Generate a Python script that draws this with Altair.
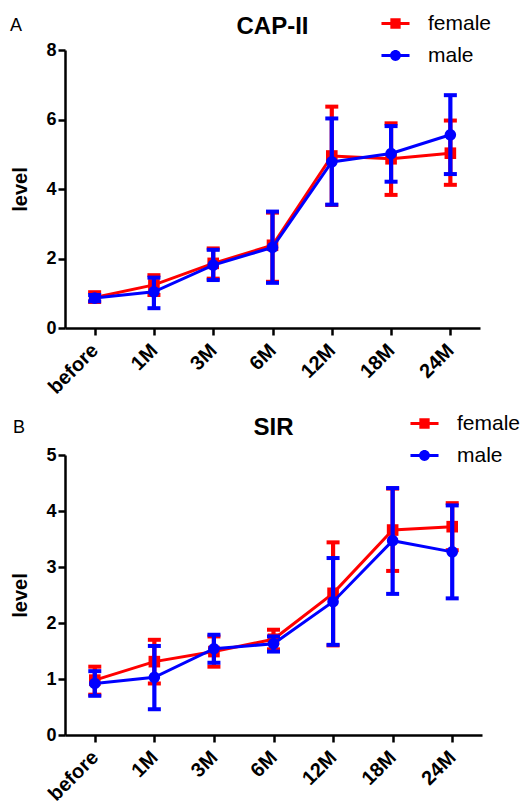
import altair as alt
import pandas as pd

times = ["before", "1M", "3M", "6M", "12M", "18M", "24M"]
sexes = ["female", "male"]
colors = ["#ff0000", "#0000ff"]

# Panel A: CAP-II
cap_female_mean = [0.88, 1.24, 1.86, 2.38, 4.95, 4.87, 5.03]
cap_female_lo = [0.75, 0.95, 1.42, 1.33, 3.54, 3.83, 4.12]
cap_female_hi = [1.03, 1.52, 2.29, 3.32, 6.37, 5.89, 5.97]
cap_male_mean = [0.86, 1.04, 1.81, 2.32, 4.78, 5.02, 5.56]
cap_male_lo = [0.77, 0.57, 1.38, 1.30, 3.55, 4.21, 4.43]
cap_male_hi = [0.95, 1.45, 2.25, 3.35, 6.03, 5.81, 6.70]

# Panel B: SIR
sir_female_mean = [0.98, 1.31, 1.49, 1.71, 2.53, 3.66, 3.72]
sir_female_lo = [0.72, 0.92, 1.22, 1.53, 1.60, 2.93, 3.30]
sir_female_hi = [1.22, 1.70, 1.76, 1.88, 3.44, 4.40, 4.14]
sir_male_mean = [0.92, 1.03, 1.54, 1.63, 2.38, 3.47, 3.27]
sir_male_lo = [0.70, 0.46, 1.29, 1.49, 1.61, 2.52, 2.44]
sir_male_hi = [1.14, 1.59, 1.79, 1.76, 3.16, 4.41, 4.10]

FONT = "Liberation Sans"

SQUARE_LEG = "M-1.5,-0.16H1.5V0.16H-1.5Z M-0.55,-0.55H0.55V0.55H-0.55Z"
CIRCLE_LEG = "M-1.5,-0.16H1.5V0.16H-1.5Z M-0.58,0A0.58,0.58 0 1,1 0.58,0A0.58,0.58 0 1,1 -0.58,0Z"


def build_df(fm, flo, fhi, mm, mlo, mhi):
    rows = []
    for s, (m, lo, hi) in zip(sexes, [(fm, flo, fhi), (mm, mlo, mhi)]):
        for t, a, b, c in zip(times, m, lo, hi):
            rows.append({"time": t, "sex": s, "mean": a, "lo": b, "hi": c})
    return pd.DataFrame(rows)


def panel(df, title, letter, ymax, yvals, width, height, leg_x, leg_y, let_x, let_y, t_off):
    color_scale = alt.Scale(domain=sexes, range=colors)
    x = alt.X("time:N", sort=times, scale=alt.Scale(type="point", padding=0.5),
              axis=alt.Axis(title=None, labelAngle=-45, labelAlign="right",
                            labelBaseline="middle", labelPadding=12, labelFontSize=20))
    y_axis = alt.Axis(values=yvals, title="level", titleFontSize=20, titleFont=FONT,
                      titleFontWeight="bold", titlePadding=15, labelFontSize=18)
    yscale = alt.Scale(domain=[0, ymax], nice=False)
    base = alt.Chart(df)
    layers = []
    for s, c, shp in zip(sexes, colors, ["square", "circle"]):
        sub = base.transform_filter(alt.datum.sex == s)
        col = alt.value(c)
        yq = alt.Y("mean:Q", scale=yscale, axis=y_axis)
        layers.append(sub.mark_rule(strokeWidth=4.2, opacity=1).encode(
            x=x, y=alt.Y("lo:Q", scale=yscale, axis=y_axis), y2="hi:Q", color=col))
        layers.append(sub.mark_tick(orient="horizontal", size=13, thickness=4, opacity=1).encode(
            x=x, y="lo:Q", color=col))
        layers.append(sub.mark_tick(orient="horizontal", size=13, thickness=4, opacity=1).encode(
            x=x, y="hi:Q", color=col))
        layers.append(sub.mark_line(strokeWidth=3).encode(x=x, y=yq, color=col))
        layers.append(sub.mark_point(shape=shp, filled=True, size=135, opacity=1).encode(
            x=x, y=yq, color=col))
    legend = alt.Legend(title=None, orient="none", legendX=leg_x, legendY=leg_y,
                        labelFont=FONT, labelFontSize=21, labelFontWeight="normal",
                        labelColor="black", symbolSize=350, symbolStrokeWidth=0,
                        symbolOpacity=1, rowPadding=10, labelOffset=22, padding=0)
    layers.append(base.mark_point(filled=True, opacity=0).encode(
        x=x, y="mean:Q",
        color=alt.Color("sex:N", scale=color_scale, legend=legend),
        shape=alt.Shape("sex:N", scale=alt.Scale(domain=sexes, range=[SQUARE_LEG, CIRCLE_LEG]),
                        legend=legend)))
    letter_chart = alt.Chart(pd.DataFrame({"panel": [letter]})).mark_text(
        font=FONT, fontSize=18, align="left", baseline="middle", color="black"
    ).encode(text="panel:N", x=alt.value(let_x), y=alt.value(let_y))
    layers.append(letter_chart)
    return alt.layer(*layers).properties(
        width=width, height=height,
        title=alt.Title(title, fontSize=24, font=FONT, fontWeight="bold", anchor="middle",
                        offset=t_off, color="black"))


dfA = build_df(cap_female_mean, cap_female_lo, cap_female_hi,
               cap_male_mean, cap_male_lo, cap_male_hi)
dfB = build_df(sir_female_mean, sir_female_lo, sir_female_hi,
               sir_male_mean, sir_male_lo, sir_male_hi)

A = panel(dfA, "CAP-II", "A", 8, [0, 2, 4, 6, 8], 415, 278, 320, -37, -55, -24, -26)
B = panel(dfB, "SIR", "B", 5, [0, 1, 2, 3, 4, 5], 417, 280, 349, -42, -52, -27, -27)

chart = alt.vconcat(A, B, spacing=15).resolve_scale(
    color="independent", shape="independent"
).properties(
    padding={"left": 2, "top": 5, "right": 0, "bottom": 0}
).configure_view(stroke=None).configure_axis(
    domainColor="black", domainWidth=2.5, tickColor="black", tickWidth=2.5, tickSize=7,
    labelColor="black", labelFont=FONT, labelFontWeight="bold", grid=False,
    titleColor="black"
)

chart.save("out.html", embed_options={"renderer": "svg", "actions": False})
